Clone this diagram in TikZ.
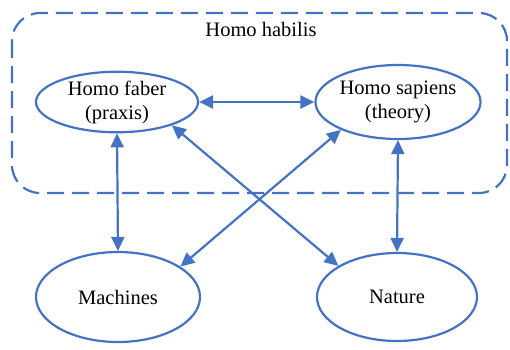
\documentclass[tikz,border=0pt]{standalone}
\usepackage{fontspec}
\setmainfont{Liberation Serif}
\usetikzlibrary{shapes.geometric,arrows.meta}
\definecolor{bl}{HTML}{4472C4}
\begin{document}
\begin{tikzpicture}[x=1pt,y=-1pt,
  ell/.style={ellipse,draw=bl,line width=2.2pt,inner sep=0pt,align=center,
    font=\fontsize{20.5}{24}\selectfont},
  conn/.style={draw=bl,line width=2.2pt,{Triangle[length=14pt,width=13pt]}-{Triangle[length=14pt,width=13pt]}}]
\useasboundingbox (0,0) rectangle (510,349);
\draw[bl,line width=2.2pt,dash pattern=on 17pt off 8pt,rounded corners=28pt] (12,13) rectangle (507,193);
\node[font=\fontsize{20.5}{24}\selectfont] (hab) at (261,29) {Homo habilis};
\node[ell,minimum width=162pt,minimum height=60pt] (faber) at (117,102) {Homo faber\\(praxis)};
\node[ell,minimum width=162pt,minimum height=74pt] (sap) at (398,102) {Homo sapiens\\(theory)};
\node[ell,minimum width=164pt,minimum height=90pt] (mach) at (118,297) {Machines};
\node[ell,minimum width=160pt,minimum height=88pt] (nat) at (397,297) {Nature};
\draw[conn] (faber.east) -- (sap.west);
\draw[conn] (faber.south) -- (mach.north);
\draw[conn] (sap.south) -- (nat.north);
\draw[conn] (faber.-23) -- (nat.152);
\draw[conn] (sap.206) -- (mach.26);
\end{tikzpicture}
\end{document}
